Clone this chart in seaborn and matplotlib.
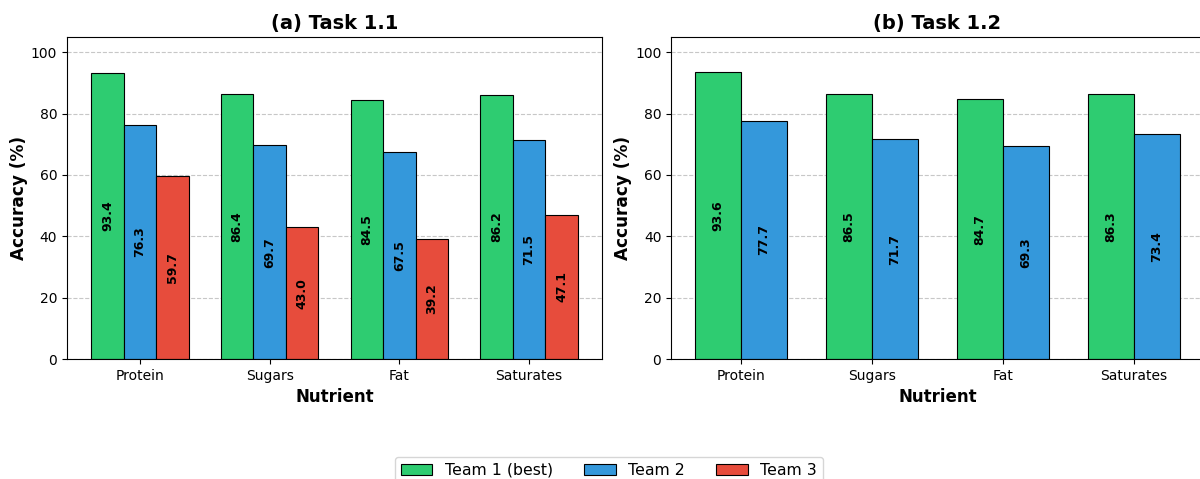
import pandas as pd
import seaborn as sns
import matplotlib.pyplot as plt

# valeurs
nutrients = ["Protein", "Sugars", "Fat", "Saturates"]
teams = ["Team 1 (best)", "Team 2", "Team 3"]
colors = ["#2ecc71", "#3498db", "#e74c3c"]

task11_team1 = [93.4, 86.4, 84.5, 86.2]
task11_team2 = [76.3, 69.7, 67.5, 71.5]
task11_team3 = [59.7, 43.0, 39.2, 47.1]

task12_team1 = [93.6, 86.5, 84.7, 86.3]
task12_team2 = [77.7, 71.7, 69.3, 73.4]

plt.rcParams['font.family'] = ['DejaVu Sans']

df1 = pd.DataFrame({
    "Nutrient": nutrients * 3,
    "Team": [teams[0]] * 4 + [teams[1]] * 4 + [teams[2]] * 4,
    "Accuracy": task11_team1 + task11_team2 + task11_team3,
})
df2 = pd.DataFrame({
    "Nutrient": nutrients * 2,
    "Team": [teams[0]] * 4 + [teams[1]] * 4,
    "Accuracy": task12_team1 + task12_team2,
})

fig = plt.figure(figsize=(12, 4.79), dpi=100)
ax1 = fig.add_axes([0.0558, 0.2505, 0.4459, 0.6723])
ax2 = fig.add_axes([0.5592, 0.2505, 0.4442, 0.6723])

sns.barplot(data=df1, x="Nutrient", y="Accuracy", hue="Team", hue_order=teams,
            palette=colors, width=0.75, gap=0, edgecolor="black", linewidth=0.8,
            saturation=1, errorbar=None, ax=ax1)
sns.barplot(data=df2, x="Nutrient", y="Accuracy", hue="Team", hue_order=teams[:2],
            palette=colors[:2], width=0.7, gap=0, edgecolor="black", linewidth=0.8,
            saturation=1, errorbar=None, ax=ax2)

titles = ["(a) Task 1.1", "(b) Task 1.2"]
for ax, title, lim in zip([ax1, ax2], titles, [0.5625, 0.535]):
    for c in ax.containers:
        ax.bar_label(c, fmt="%.1f", label_type="center", rotation=90,
                     fontsize=9, fontweight="bold")
    ax.set_title(title, fontsize=14, fontweight="bold")
    ax.set_xlabel("Nutrient", fontsize=12, fontweight="bold")
    ax.set_ylabel("Accuracy (%)", fontsize=12.2, fontweight="bold", labelpad=2)
    ax.set_ylim(0, 105)
    ax.set_xlim(-lim, 3 + lim)
    ax.yaxis.grid(True, linestyle="--", alpha=0.7)
    ax.set_axisbelow(True)
    ax.tick_params(labelsize=10)

handles, labels = ax1.get_legend_handles_labels()
ax1.get_legend().remove()
ax2.get_legend().remove()
fig.legend(handles, labels, loc="upper center", bbox_to_anchor=(0.5075, 0.063),
           ncol=3, fontsize=11.3)

plt.savefig("out.png", dpi=100)
